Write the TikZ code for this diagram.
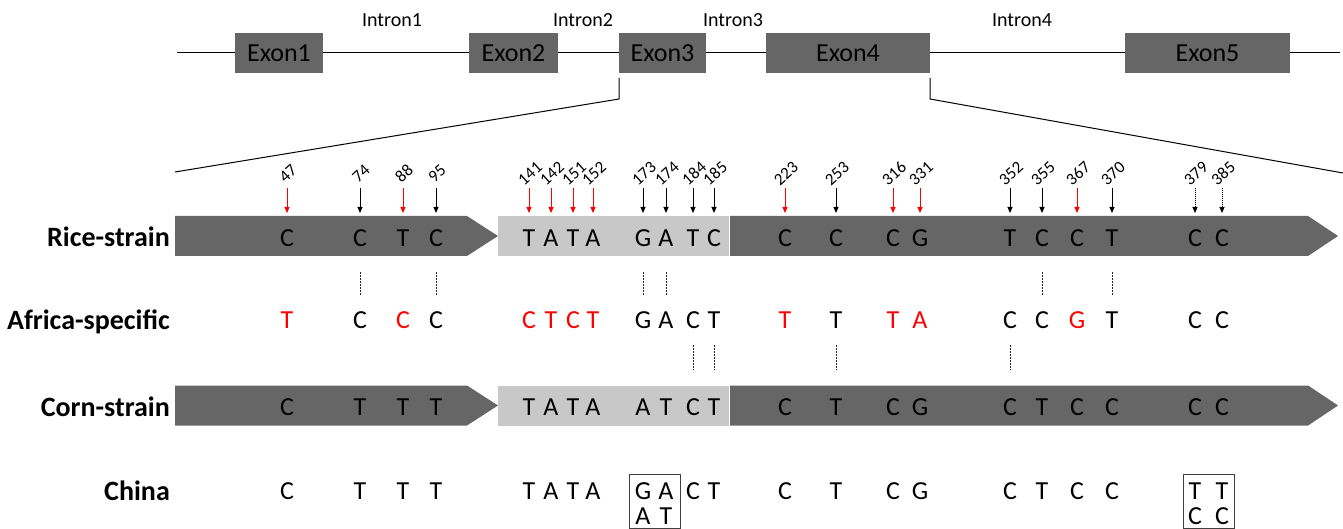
\documentclass[tikz,border=0pt]{standalone}
\usepackage{fontspec}
\setmainfont{Carlito}
\usetikzlibrary{arrows.meta}
\definecolor{dk}{HTML}{666666}
\definecolor{lt}{HTML}{C8C8C8}
\definecolor{rd}{HTML}{FF0000}
\begin{document}
\begin{tikzpicture}[x=1pt,y=-1pt,
  exon/.style={fill=dk, draw=none, minimum height=40pt, inner sep=0, font=\fontsize{26}{30}\selectfont},
  intron/.style={font=\fontsize{20}{24}\selectfont, anchor=base, inner sep=0},
  seq/.style={font=\fontsize{26}{30}\selectfont, anchor=base, inner sep=0},
  rowlab/.style={font=\bfseries\fontsize{28}{32}\selectfont, anchor=base east, inner sep=0},
  posnum/.style={font=\fontsize{17}{19}\selectfont, rotate=42, anchor=center, inner sep=0},
  posarrow/.style={-{Triangle[length=6pt,width=5pt]}, line width=1pt},
  vdot/.style={draw=black!85, dash pattern=on 1.5pt off 1.5pt, line width=0.9pt},
  thinline/.style={line width=1pt},
  chinabox/.style={draw=black!75, line width=0.9pt, minimum width=51pt, minimum height=54pt, inner sep=0}
]
\useasboundingbox (0,0) rectangle (1343,529);

% gene structure
\coordinate (gl) at (177,52.5);
\coordinate (gr) at (1340,52.5);
\draw[thinline] (gl) -- (gr);
\node[exon, minimum width=88pt] (e1) at (279,53) {Exon1};
\node[exon, minimum width=89pt] (e2) at (513.5,53) {Exon2};
\node[exon, minimum width=87pt] (e3) at (662.5,53) {Exon3};
\node[exon, minimum width=164pt] (e4) at (848,53) {Exon4};
\node[exon, minimum width=165pt] (e5) at (1207.5,53) {Exon5};
\node[intron] (i1) at (392,26.7) {Intron1};
\node[intron] (i2) at (583,26.7) {Intron2};
\node[intron] (i3) at (733,26.7) {Intron3};
\node[intron] (i4) at (1022,26.7) {Intron4};

% expansion lines
\coordinate (xl1) at (619,78);
\coordinate (xl2) at (619,99);
\coordinate (xl3) at (175,172);
\coordinate (xr1) at (930,78);
\coordinate (xr2) at (930,99);
\coordinate (xr3) at (1343,173);
\draw[thinline] (xl1) -- (xl2) -- (xl3);
\draw[thinline] (xr1) -- (xr2) -- (xr3);

% bars
\fill[dk] (175,216) -- (467,216) -- (498,236) -- (467,256) -- (175,256) -- cycle;
\fill[lt] (498,216) rectangle (729,256);
\fill[dk] (730,216) -- (1308,216) -- (1338,236) -- (1308,256) -- (730,256) -- cycle;
\fill[dk] (175,385.5) -- (467,385.5) -- (498,405.5) -- (467,425.5) -- (175,425.5) -- cycle;
\fill[lt] (498,385.5) rectangle (729,425.5);
\fill[dk] (730,385.5) -- (1308,385.5) -- (1338,405.5) -- (1308,425.5) -- (730,425.5) -- cycle;

% row labels
\node[rowlab] (lr) at (170,247) {Rice-strain};
\node[rowlab] (la) at (170,329) {Africa-specific};
\node[rowlab] (lc) at (170,416) {Corn-strain};
\node[rowlab] (lh) at (170,500) {China};

% letters
\foreach \n/\x/\r/\a/\ac/\c/\h in {
 47/287/C/T/rd/C/C, 74/360/C/C/black/T/T, 88/403/T/C/rd/T/T, 95/436/C/C/black/T/T,
 141/529/T/C/rd/T/T, 142/551/A/T/rd/A/A, 151/573/T/C/rd/T/T, 152/593/A/T/rd/A/A,
 173/643/G/G/black/A/G, 174/666/A/A/black/T/A, 184/693/T/C/black/C/C, 185/714/C/T/black/T/T,
 223/785/C/T/rd/C/C, 253/836/C/T/black/T/T, 316/893/C/T/rd/C/C, 331/920/G/A/rd/G/G,
 352/1010/T/C/black/C/C, 355/1042/C/C/black/T/T, 367/1077/C/G/rd/C/C, 370/1112/T/T/black/C/C,
 379/1195/C/C/black/C/T, 385/1222/C/C/black/C/T}
{
 \node[seq] (r\n) at (\x,246.5) {\r};
 \node[seq,text=\ac] (a\n) at (\x,328.5) {\a};
 \node[seq] (c\n) at (\x,415.5) {\c};
 \node[seq] (h\n) at (\x,499.5) {\h};
}
\node[seq] (h173b) at (643,524.5) {A};
\node[seq] (h174b) at (666,524.5) {T};
\node[seq] (h379b) at (1195,524.5) {C};
\node[seq] (h385b) at (1222,524.5) {C};
\node[chinabox] (bx1) at (654.5,501) {};
\node[chinabox] (bx2) at (1209,501) {};

% position numbers and arrows
\foreach \n/\x/\col/\sty in {
 47/287/rd/solid, 74/360/black/solid, 88/403/rd/solid, 95/436/black/solid,
 141/529/rd/solid, 142/551/rd/solid, 151/573/rd/solid, 152/593/rd/solid,
 173/643/black/solid, 174/666/black/solid, 184/693/black/solid, 185/714/black/solid,
 223/785/rd/solid, 253/836/black/solid, 316/893/rd/solid, 331/920/rd/solid,
 352/1010/black/solid, 355/1042/black/solid, 367/1077/rd/solid, 370/1112/black/solid,
 379/1195/black/densely dotted, 385/1222/black/densely dotted}
{
 \node[posnum] (p\n) at (\x+1,173.5) {\n};
 \coordinate (t\n) at (\x,188);
 \coordinate (b\n) at (\x,213);
 \draw[posarrow, draw=\col, fill=\col, \sty] (t\n) -- (b\n);
}

% dotted links
\foreach \n/\x in {74/360, 95/436, 173/643, 174/666, 355/1042, 370/1112}
{
 \coordinate (u\n) at (\x,272);
 \coordinate (v\n) at (\x,296);
 \draw[vdot] (u\n) -- (v\n);
}
\foreach \n/\x in {184/693, 185/714, 253/836, 352/1010}
{
 \coordinate (w\n) at (\x,345);
 \coordinate (z\n) at (\x,370);
 \draw[vdot] (w\n) -- (z\n);
}
\end{tikzpicture}
\end{document}
